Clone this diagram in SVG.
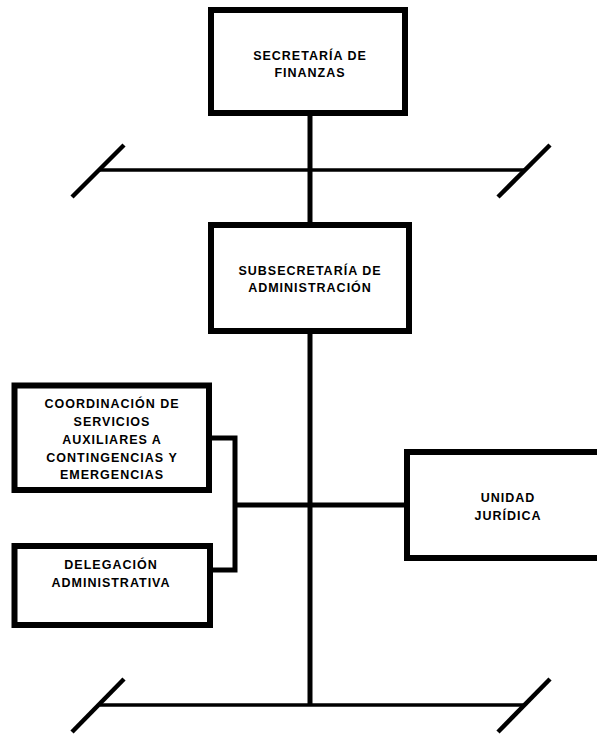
<svg xmlns="http://www.w3.org/2000/svg" width="597" height="734" viewBox="0 0 597 734">
<style>
.box{fill:#fff;stroke:#000;stroke-width:6}
.ln{fill:none;stroke:#000;stroke-width:5}
.hl{fill:none;stroke:#000;stroke-width:3.5}
.sl{fill:none;stroke:#000;stroke-width:4.5}
text{font-family:"Liberation Sans",Arial,sans-serif;font-weight:bold;font-size:12.5px;letter-spacing:1px;text-anchor:middle;fill:#000}
</style>
<rect width="597" height="734" fill="#fff"/>
<g id="connectors">
<line class="ln" x1="310" y1="113" x2="310" y2="225"/>
<line class="ln" x1="310" y1="331" x2="310" y2="705"/>
<line class="hl" x1="100" y1="170" x2="525" y2="170"/>
<line class="hl" x1="100" y1="705" x2="525" y2="705"/>
<line class="sl" x1="72" y1="197" x2="124" y2="145"/>
<line class="sl" x1="498" y1="197" x2="550" y2="145"/>
<line class="sl" x1="72" y1="732" x2="124" y2="679"/>
<line class="sl" x1="498" y1="732" x2="550" y2="679"/>
<polyline class="ln" points="209,438 235,438 235,570 210,570"/>
<line class="ln" x1="235" y1="505" x2="407" y2="505"/>
</g>
<g id="secretaria">
<rect class="box" x="211" y="10" width="194" height="103"/>
<text x="310" y="60">SECRETARÍA DE</text>
<text x="310" y="77">FINANZAS</text>
</g>
<g id="subsecretaria">
<rect class="box" x="211" y="225" width="198" height="106"/>
<text x="310" y="275">SUBSECRETARÍA DE</text>
<text x="310" y="292">ADMINISTRACIÓN</text>
</g>
<g id="coordinacion">
<rect class="box" x="14.5" y="385.5" width="194.5" height="104.5"/>
<text x="112" y="408">COORDINACIÓN DE</text>
<text x="112" y="426">SERVICIOS</text>
<text x="112" y="444">AUXILIARES A</text>
<text x="112" y="462">CONTINGENCIAS Y</text>
<text x="112" y="479">EMERGENCIAS</text>
</g>
<g id="delegacion">
<rect class="box" x="14.5" y="546" width="195.5" height="79"/>
<text x="111" y="569">DELEGACIÓN</text>
<text x="111" y="587">ADMINISTRATIVA</text>
</g>
<g id="unidad">
<rect class="box" x="407" y="452" width="200" height="106"/>
<text x="508" y="502">UNIDAD</text>
<text x="508" y="520">JURÍDICA</text>
</g>
</svg>
